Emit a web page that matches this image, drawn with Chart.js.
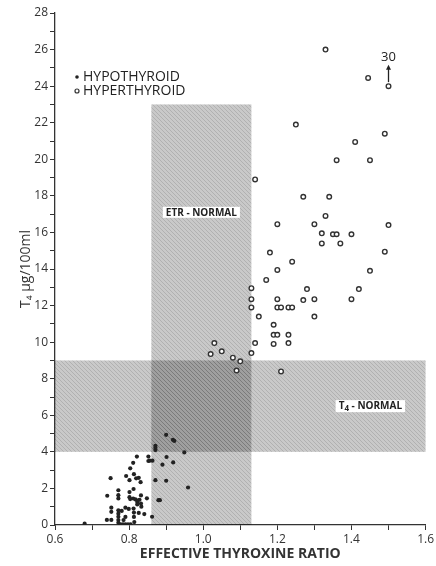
<!DOCTYPE html>
<html>
<head>
<meta charset="utf-8">
<title>Effective Thyroxine Ratio</title>
<script src="https://cdn.jsdelivr.net/npm/chart.js@4.4.0/dist/chart.umd.min.js"></script>
<style>
  html, body { margin: 0; padding: 0; background: #fff; }
  #wrap { width: 436px; height: 566px; }
</style>
</head>
<body>
<div id="wrap"><canvas id="etrChart"></canvas></div>
<script>
// --------------------- Data ---------------------
const hypoX = [0.68, 0.74, 0.752, 0.741, 0.75, 0.752, 0.752, 0.771, 0.771, 0.771,
  0.771, 0.771, 0.771, 0.771, 0.771, 0.776, 0.783, 0.79, 0.797, 0.804,
  0.78, 0.785, 0.79, 0.79, 0.799, 0.801, 0.801, 0.801, 0.803, 0.792,
  0.803, 0.811, 0.821, 0.813, 0.819, 0.826, 0.831, 0.812, 0.811, 0.817,
  0.823, 0.828, 0.832, 0.832, 0.833, 0.822, 0.822, 0.848, 0.841, 0.812,
  0.813, 0.813, 0.814, 0.826, 0.852, 0.856, 0.863, 0.852, 0.862, 0.871,
  0.879, 0.883, 0.89, 0.901, 0.9, 0.919, 0.959, 0.871, 0.871, 0.871,
  0.9, 0.918, 0.922, 0.949];
const hypoY = [0.07, 0.28, 0.28, 1.6, 2.56, 0.95, 0.72, 1.9, 1.63, 1.45,
  0.8, 0.62, 0.45, 0.27, 0.12, 0.04, 0.04, 0.04, 0.04, 0.04,
  0.77, 0.27, 0.95, 0.44, 0.88, 2.45, 1.8, 1.52, 1.42, 2.68,
  3.1, 3.4, 3.74, 2.78, 2.55, 2.58, 2.34, 1.97, 1.45, 1.4,
  1.34, 1.38, 1.62, 1.17, 1.0, 1.26, 1.12, 1.46, 0.6, 0.9,
  0.68, 0.44, 0.16, 0.66, 3.5, 3.52, 3.52, 3.74, 0.45, 2.45,
  1.36, 1.36, 3.3, 3.72, 2.42, 3.42, 2.05, 4.33, 4.22, 4.1,
  4.93, 4.66, 4.6, 3.97];

const hyperX = [1.33, 1.445, 1.50, 1.25, 1.49, 1.41, 1.36, 1.45, 1.14, 1.27,
  1.34, 1.33, 1.20, 1.30, 1.50, 1.32, 1.35, 1.36, 1.40, 1.32,
  1.37, 1.49, 1.18, 1.24, 1.20, 1.45, 1.17, 1.28, 1.42, 1.13,
  1.13, 1.20, 1.27, 1.30, 1.40, 1.13, 1.20, 1.21, 1.23, 1.24,
  1.15, 1.30, 1.19, 1.19, 1.20, 1.23, 1.14, 1.19, 1.23, 1.03,
  1.02, 1.05, 1.08, 1.10, 1.13, 1.09, 1.21];
const hyperY = [26.0, 24.45, 24.0, 21.9, 21.4, 20.95, 19.95, 19.95, 18.9, 17.95,
  17.95, 16.9, 16.45, 16.45, 16.4, 15.95, 15.9, 15.9, 15.9, 15.4,
  15.4, 14.95, 14.9, 14.4, 13.95, 13.9, 13.4, 12.9, 12.9, 12.95,
  12.35, 12.35, 12.3, 12.35, 12.35, 11.9, 11.9, 11.9, 11.9, 11.9,
  11.4, 11.4, 10.95, 10.4, 10.4, 10.4, 9.95, 9.9, 9.95, 9.95,
  9.35, 9.5, 9.15, 8.95, 9.4, 8.45, 8.4];

// one hyperthyroid value lies off the scale
const offScale = { x: 1.5, y: 24, value: 30 };

const xTickMarks = [0.6, 0.7, 0.8, 0.9, 1.0, 1.1, 1.2, 1.3, 1.4, 1.5, 1.6];
const xTickLabels = [0.6, 0.8, 1.0, 1.2, 1.4, 1.6];

// normal ranges
const etrNormal = [0.86, 1.13];
const etrNormalTop = 23;
const t4Normal = [4, 9];

// --------------------- Helpers ---------------------
function hatch(ctx) {
  const c = document.createElement("canvas");
  c.width = 4;
  c.height = 4;
  const g = c.getContext("2d");
  g.fillStyle = "rgba(0,0,0,0.21)";
  g.fillRect(0, 0, 4, 4);
  g.strokeStyle = "rgba(0,0,0,0.12)";
  g.lineWidth = 1;
  g.beginPath();
  g.moveTo(0, 0);
  g.lineTo(4, 4);
  g.stroke();
  return ctx.createPattern(c, "repeat");
}

function boxedLabel(ctx, parts, cx, cy, padX, h) {
  let w = 0;
  parts.forEach(p => {
    ctx.font = p.sub ? "bold 8px 'Open Sans'" : "bold 10px 'Open Sans'";
    w += ctx.measureText(p.text).width;
  });
  ctx.fillStyle = "#fff";
  ctx.fillRect(cx - w / 2 - padX, cy - h / 2, w + padX * 2, h);
  ctx.fillStyle = "#222";
  ctx.textBaseline = "middle";
  ctx.textAlign = "left";
  let x = cx - w / 2;
  parts.forEach(p => {
    ctx.font = p.sub ? "bold 8px 'Open Sans'" : "bold 10px 'Open Sans'";
    ctx.fillText(p.text, x, cy + (p.sub ? 2.5 : 0.5));
    x += ctx.measureText(p.text).width;
  });
}

// --------------------- Plugins ---------------------
const bandsPlugin = {
  id: "bands",
  beforeDatasetsDraw(chart) {
    const { ctx, scales: { x, y } } = chart;
    ctx.save();
    ctx.fillStyle = hatch(ctx);

    const ex0 = x.getPixelForValue(etrNormal[0]);
    const ex1 = x.getPixelForValue(etrNormal[1]);
    ctx.fillRect(ex0, y.getPixelForValue(etrNormalTop), ex1 - ex0,
      y.getPixelForValue(0) - y.getPixelForValue(etrNormalTop));

    const ty0 = y.getPixelForValue(t4Normal[1]);
    const ty1 = y.getPixelForValue(t4Normal[0]);
    ctx.fillRect(x.getPixelForValue(0.6), ty0, x.getPixelForValue(1.6) - x.getPixelForValue(0.6), ty1 - ty0);

    boxedLabel(ctx, [{ text: "ETR - NORMAL" }],
      (ex0 + ex1) / 2, y.getPixelForValue(17.1), 3, 11);
    boxedLabel(ctx, [{ text: "T" }, { text: "4", sub: true }, { text: " - NORMAL" }],
      x.getPixelForValue(1.451), (ty0 + ty1) / 2, 3, 12);
    ctx.restore();
  },
  afterDatasetsDraw(chart) {
    const { ctx, scales: { x, y } } = chart;
    ctx.save();

    // arrow for the off-scale point
    const ax = x.getPixelForValue(offScale.x);
    const ay = y.getPixelForValue(offScale.y) - 4;
    const tip = y.getPixelForValue(offScale.y + 1.17);
    ctx.strokeStyle = "#222";
    ctx.fillStyle = "#222";
    ctx.lineWidth = 1.3;
    ctx.beginPath();
    ctx.moveTo(ax, ay);
    ctx.lineTo(ax, tip + 3);
    ctx.stroke();
    ctx.beginPath();
    ctx.moveTo(ax, tip);
    ctx.lineTo(ax - 2.5, tip + 5);
    ctx.lineTo(ax + 2.5, tip + 5);
    ctx.closePath();
    ctx.fill();
    ctx.font = "13px 'Open Sans'";
    ctx.textAlign = "center";
    ctx.textBaseline = "bottom";
    ctx.fillText(String(offScale.value), ax, tip - 1);

    // legend
    const lx = chart.chartArea.left + 22;
    const ly = chart.chartArea.top + 64;
    ctx.font = "14px 'Open Sans'";
    ctx.textAlign = "left";
    ctx.textBaseline = "middle";
    chart.data.datasets.forEach((ds, i) => {
      const cy = ly + i * 14;
      ctx.beginPath();
      ctx.arc(lx, cy, i === 0 ? 1.8 : 2, 0, Math.PI * 2);
      if (i === 0) {
        ctx.fillStyle = ds.backgroundColor;
        ctx.fill();
      } else {
        ctx.strokeStyle = ds.borderColor;
        ctx.lineWidth = 1.2;
        ctx.stroke();
      }
      ctx.fillStyle = "#222";
      ctx.fillText(ds.label, lx + 6, cy + 0.5);
    });
    ctx.restore();
  }
};

// --------------------- Chart ---------------------
new Chart(document.getElementById("etrChart"), {
  type: "scatter",
  data: {
    datasets: [
      {
        label: "HYPOTHYROID",
        data: hypoX.map((x, i) => ({ x, y: hypoY[i] })),
        pointRadius: 2.1,
        borderWidth: 0,
        backgroundColor: "#222"
      },
      {
        label: "HYPERTHYROID",
        data: hyperX.map((x, i) => ({ x, y: hyperY[i] })),
        pointRadius: 2.3,
        borderWidth: 1.4,
        borderColor: "#333",
        backgroundColor: "#fff"
      }
    ]
  },
  options: {
    responsive: true,
    maintainAspectRatio: false,
    animation: false,
    events: [],
    layout: { padding: { top: 13, right: 8, left: 0, bottom: 0 } },
    plugins: { legend: { display: false }, tooltip: { enabled: false } },
    scales: {
      x: {
        type: "linear",
        min: 0.6,
        max: 1.6,
        afterBuildTicks: s => { s.ticks = xTickMarks.map(v => ({ value: v })); },
        afterFit: s => { s.height = 41; },
        ticks: {
          autoSkip: false,
          maxRotation: 0,
          padding: 2,
          color: "#333",
          font: { family: "Open Sans", size: 12 },
          callback: v => xTickLabels.some(t => Math.abs(t - v) < 1e-6) ? Number(v).toFixed(1) : ""
        },
        grid: { drawOnChartArea: false, drawTicks: true, tickLength: 5, color: "#333" },
        border: { display: true, color: "#333", width: 1.3 },
        title: {
          display: true,
          text: "EFFECTIVE THYROXINE RATIO",
          color: "#333",
          font: { family: "Open Sans", size: 14, weight: "bold" },
          padding: { top: 5 }
        }
      },
      y: {
        min: 0,
        max: 28,
        afterFit: s => { s.width = 55; },
        ticks: {
          stepSize: 1,
          autoSkip: false,
          padding: 2,
          color: "#333",
          font: { family: "Open Sans", size: 12 },
          callback: v => v % 2 === 0 ? v : ""
        },
        grid: { drawOnChartArea: false, drawTicks: true, tickLength: 5, color: "#333" },
        border: { display: true, color: "#333", width: 1.3 },
        title: {
          display: true,
          text: "T₄ μg/100ml",
          color: "#333",
          font: { family: "Open Sans", size: 14 },
          padding: { bottom: 0, top: 18 }
        }
      }
    }
  },
  plugins: [bandsPlugin]
});
</script>
</body>
</html>
